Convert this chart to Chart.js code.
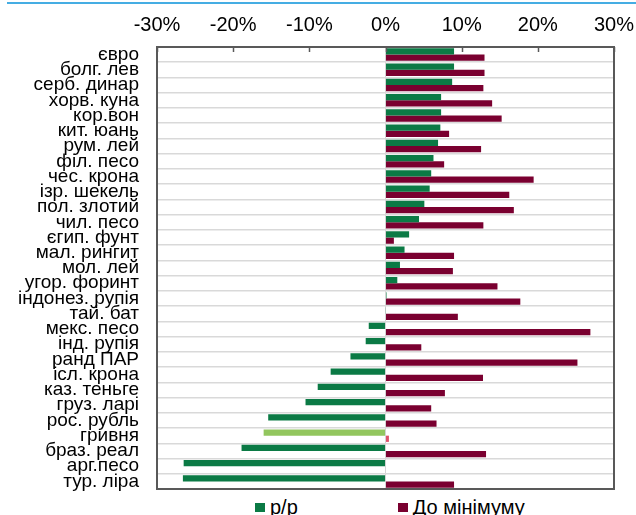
<!DOCTYPE html>
<html lang="uk">
<head>
<meta charset="utf-8">
<title>Валюти: р/р та до мінімуму</title>
<script src="https://cdn.jsdelivr.net/npm/chart.js@4/dist/chart.umd.min.js"></script>
<style>
  html, body { margin: 0; padding: 0; background: #fff; overflow: hidden; }
  body { width: 636px; height: 515px; position: relative; font-family: "Liberation Sans", Arial, sans-serif; }
  .top-rule { position: absolute; left: 7px; right: 0; top: 2px; height: 2px; background: #45ade3; }
  #chart { position: absolute; left: 0; top: 0; }
  .legend { position: absolute; left: 255px; top: 496px; display: flex; gap: 100px; font-size: 20px; color: #000; }
  .legend-item { display: flex; align-items: center; gap: 5px; }
  .legend-box { width: 10px; height: 9px; }
</style>
</head>
<body>
<div class="top-rule"></div>
<canvas id="chart" width="636" height="492"></canvas>
<div class="legend" id="legend"></div>
<script>
const categories = [
  "євро", "болг. лев", "серб. динар", "хорв. куна", "кор.вон", "кит. юань",
  "рум. лей", "філ. песо", "чес. крона", "ізр. шекель", "пол. злотий",
  "чил. песо", "єгип. фунт", "мал. рингит", "мол. лей", "угор. форинт",
  "індонез. рупія", "тай. бат", "мекс. песо", "інд. рупія", "ранд ПАР",
  "ісл. крона", "каз. теньге", "груз. ларі", "рос. рубль", "гривня",
  "браз. реал", "арг.песо", "тур. ліра"
];

// year-over-year change, %
const yoyValues = [
  9.0, 9.0, 8.75, 7.3, 7.3, 7.2, 6.9, 6.3, 6.0, 5.8, 5.1, 4.4, 3.1, 2.5, 1.9,
  1.55, 0.13, 0.05, -2.2, -2.6, -4.6, -7.2, -8.9, -10.5, -15.4, -16.0, -18.9,
  -26.5, -26.6
];

// change from the low point, %
const fromMinValues = [
  13.0, 13.0, 12.85, 14.0, 15.25, 8.35, 12.55, 7.7, 19.45, 16.25, 16.85, 12.85,
  1.1, 9.0, 8.85, 14.7, 17.7, 9.5, 26.9, 4.7, 25.2, 12.8, 7.8, 6.0, 6.7, 0.45,
  13.2, null, 9.0
];

const xTicks = [-30, -20, -10, 0, 10, 20, 30];

const seriesNames = ["р/р", "До мінімуму"];
const green = "#0b7a45";
const greenLight = "#92c65e";
const wine = "#7a0030";
const wineLight = "#e0506a";
const highlight = "гривня";

Chart.defaults.font.family = '"Liberation Sans", Arial, sans-serif';
Chart.defaults.color = "#000";

// frame around the plot plus short inward tick marks on the top axis
const frame = {
  id: "frame",
  afterDatasetsDraw(chart) {
    const { ctx, chartArea } = chart;
    const x = chart.scales.x;
    ctx.save();
    ctx.strokeStyle = "#595959";
    ctx.lineWidth = 1.5;
    xTicks.forEach((v) => {
      const px = Math.round(x.getPixelForValue(v)) + 0.5;
      ctx.beginPath();
      ctx.moveTo(px, chartArea.top);
      ctx.lineTo(px, chartArea.top + 5);
      ctx.stroke();
    });
    ctx.lineWidth = 2;
    ctx.strokeRect(chartArea.left, chartArea.top, chartArea.right - chartArea.left, chartArea.bottom - chartArea.top);
    ctx.restore();
  }
};

const colorsFor = (base, light) => categories.map((c) => (c === highlight ? light : base));

new Chart(document.getElementById("chart"), {
  type: "bar",
  data: {
    labels: categories,
    datasets: [
      {
        label: seriesNames[0],
        data: yoyValues,
        backgroundColor: colorsFor(green, greenLight),
        categoryPercentage: 0.82,
        barPercentage: 1.0
      },
      {
        label: seriesNames[1],
        data: fromMinValues,
        backgroundColor: colorsFor(wine, wineLight),
        categoryPercentage: 0.82,
        barPercentage: 1.0
      }
    ]
  },
  options: {
    indexAxis: "y",
    responsive: false,
    animation: false,
    layout: { padding: { top: 0, right: 22, bottom: 3, left: 0 } },
    plugins: {
      legend: { display: false },
      tooltip: { enabled: false }
    },
    scales: {
      x: {
        position: "top",
        min: -30,
        max: 30,
        afterBuildTicks(scale) {
          scale.ticks = xTicks.map((value) => ({ value }));
        },
        afterFit(scale) {
          scale.height = 47;
          scale.paddingLeft = 0;
          scale.paddingRight = 0;
        },
        border: { display: false },
        grid: {
          drawTicks: false,
          color: (ctx) => (ctx.tick && ctx.tick.value === 0 ? "#d4d4d4" : "rgba(0,0,0,0)"),
          lineWidth: 1
        },
        ticks: {
          padding: 10,
          font: { size: 20 },
          color: "#000",
          callback: (v) => v + "%"
        }
      },
      y: {
        afterFit(scale) {
          scale.width = 157;
          scale.paddingTop = 0;
          scale.paddingBottom = 0;
        },
        border: { display: false },
        grid: {
          drawTicks: false,
          color: "#d9d9d9",
          lineWidth: 1.5
        },
        ticks: {
          autoSkip: false,
          padding: 18,
          font: { size: 19 },
          color: "#000"
        }
      }
    }
  },
  plugins: [frame]
});

// legend below the plot
const legendRoot = document.getElementById("legend");
[[seriesNames[0], green], [seriesNames[1], wine]].forEach(([name, color]) => {
  const item = document.createElement("div");
  item.className = "legend-item";
  const box = document.createElement("span");
  box.className = "legend-box";
  box.style.background = color;
  const text = document.createElement("span");
  text.textContent = name;
  item.append(box, text);
  legendRoot.appendChild(item);
});
</script>
</body>
</html>
